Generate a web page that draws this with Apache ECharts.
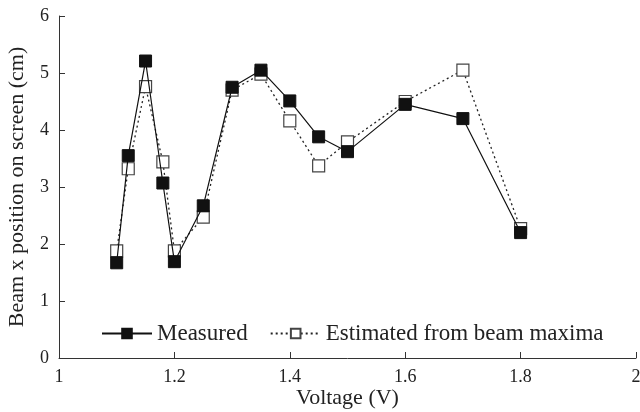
<!DOCTYPE html>
<html>
<head>
<meta charset="utf-8">
<script src="https://cdn.jsdelivr.net/npm/echarts@6/dist/echarts.min.js"></script>
<style>
html,body{margin:0;padding:0;background:#fff;}
#chart{width:640px;height:412px;}
</style>
</head>
<body>
<div id="chart"></div>
<script>
var voltage=[1.1,1.12,1.15,1.18,1.2,1.25,1.3,1.35,1.4,1.45,1.5,1.6,1.7,1.8];
var measured=[1.67,3.55,5.21,3.07,1.69,2.67,4.75,5.05,4.51,3.88,3.62,4.45,4.20,2.20];
var estimated=[1.88,3.32,4.76,3.44,1.88,2.47,4.70,4.98,4.16,3.37,3.79,4.50,5.05,2.27];

var font='"Liberation Serif","Times New Roman",serif';

function pairs(xs,ys){
    var out=[];
    for(var i=0;i<xs.length;i++){
        out.push([xs[i],ys[i]]);
    }
    return out;
}

var myChart=echarts.init(document.getElementById('chart'));
var option={
    animation:false,
    textStyle:{fontFamily:font,color:'#222'},
    grid:{left:59,right:4,top:16,bottom:54,containLabel:false,outerBoundsMode:'none'},
    legend:{
        left:96,
        top:317,
        itemWidth:50,
        itemHeight:12,
        itemGap:22,
        textStyle:{fontFamily:font,fontSize:23,color:'#222'},
        data:['Measured','Estimated from beam maxima']
    },
    xAxis:{
        type:'value',
        min:1,
        max:2,
        interval:0.2,
        name:'Voltage (V)',
        nameLocation:'middle',
        nameGap:29,
        nameMoveOverlap:false,
        nameTextStyle:{fontFamily:font,fontSize:22,color:'#222'},
        axisLine:{lineStyle:{color:'#333',width:1}},
        axisTick:{inside:true,length:6,lineStyle:{color:'#333'}},
        axisLabel:{fontFamily:font,fontSize:18,color:'#222',margin:10},
        splitLine:{show:false}
    },
    yAxis:{
        type:'value',
        min:0,
        max:6,
        interval:1,
        name:'Beam x position on screen (cm)',
        nameLocation:'middle',
        nameGap:31,
        nameMoveOverlap:false,
        nameTextStyle:{fontFamily:font,fontSize:22,color:'#222'},
        axisLine:{show:true,lineStyle:{color:'#333',width:1}},
        axisTick:{show:true,inside:true,length:6,lineStyle:{color:'#333'}},
        axisLabel:{fontFamily:font,fontSize:18,color:'#222',margin:10},
        splitLine:{show:false}
    },
    series:[
        {
            name:'Estimated from beam maxima',
            type:'line',
            z:2,
            data:pairs(voltage,estimated),
            symbol:'rect',
            symbolSize:12,
            lineStyle:{color:'#222',width:1.3,type:[2,3]},
            itemStyle:{color:'#fff',borderColor:'#444',borderWidth:1.2}
        },
        {
            name:'Measured',
            type:'line',
            z:3,
            data:pairs(voltage,measured),
            symbol:'rect',
            symbolSize:12,
            lineStyle:{color:'#111',width:1.2},
            itemStyle:{color:'#111',borderColor:'#111',borderWidth:1}
        }
    ]
};
myChart.setOption(option);
</script>
</body>
</html>
